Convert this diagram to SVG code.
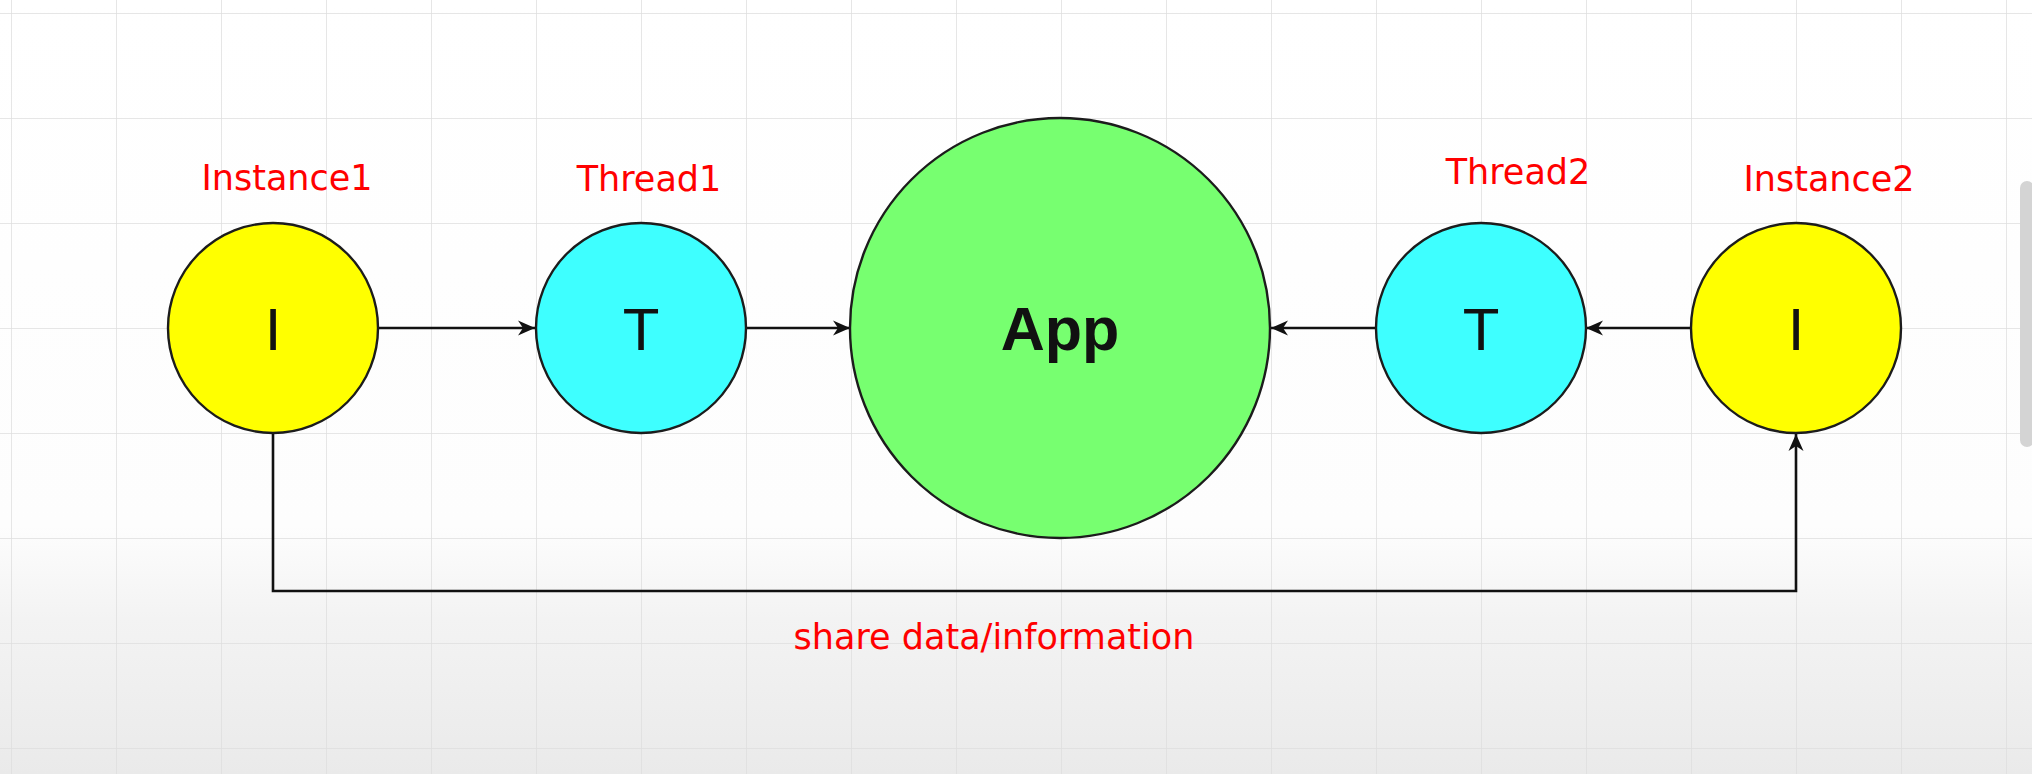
<svg xmlns="http://www.w3.org/2000/svg" width="2032" height="774" viewBox="0 0 2032 774">
  <defs>
    <linearGradient id="bg" x1="0" y1="0" x2="0" y2="1">
      <stop offset="0" stop-color="#ffffff"/>
      <stop offset="0.68" stop-color="#fdfdfd"/>
      <stop offset="0.8" stop-color="#f3f3f3"/>
      <stop offset="1" stop-color="#eaeaea"/>
    </linearGradient>
    <pattern id="grid" x="11" y="13" width="105" height="105" patternUnits="userSpaceOnUse">
      <path d="M0,0 H105 M0,0 V105" fill="none" stroke="#dedede" stroke-width="1.5"/>
    </pattern>
    <marker id="arrow" markerUnits="userSpaceOnUse" markerWidth="20" markerHeight="18" refX="18" refY="9" orient="auto">
      <path d="M1,1.5 L18,9 L1,16.5 L6,9 z" fill="#111111"/>
    </marker>
    <style>
      .node { stroke: #1c1c1c; stroke-width: 2.4; }
      .inst { fill: #ffff00; }
      .thr { fill: #3effff; }
      .app { fill: #77ff70; }
      .letter { font-family: "Liberation Sans", Arial, sans-serif; font-size: 60px; fill: #111111; text-anchor: middle; }
      .appText { font-family: "Liberation Sans", Arial, sans-serif; font-size: 61px; font-weight: bold; fill: #111111; text-anchor: middle; }
      .label { font-family: "DejaVu Sans", Verdana, sans-serif; font-size: 35px; fill: #ff0000; text-anchor: middle; }
      .conn { fill: none; stroke: #111111; stroke-width: 2.6; }
    </style>
  </defs>

  <rect x="0" y="0" width="2032" height="774" fill="url(#bg)"/>
  <rect x="0" y="0" width="2032" height="774" fill="url(#grid)"/>
  <rect x="2020" y="181" width="14" height="266" rx="7" fill="#d4d4d4"/>

  <g id="connectors">
    <line class="conn" x1="379" y1="328" x2="535" y2="328" marker-end="url(#arrow)"/>
    <line class="conn" x1="746" y1="328" x2="850" y2="328" marker-end="url(#arrow)"/>
    <line class="conn" x1="1376" y1="328" x2="1271" y2="328" marker-end="url(#arrow)"/>
    <line class="conn" x1="1691" y1="328" x2="1586" y2="328" marker-end="url(#arrow)"/>
    <path class="conn" d="M273,434 V591 H1796 V434" marker-end="url(#arrow)"/>
  </g>

  <g id="instance1">
    <circle class="node inst" cx="273" cy="328" r="105"/>
    <text class="letter" x="273" y="350">I</text>
    <text class="label" x="287" y="190">Instance1</text>
  </g>

  <g id="thread1">
    <circle class="node thr" cx="641" cy="328" r="105"/>
    <text class="letter" x="641" y="350">T</text>
    <text class="label" x="649" y="191">Thread1</text>
  </g>

  <g id="app">
    <circle class="node app" cx="1060" cy="328" r="210"/>
    <text class="appText" x="1060" y="350">App</text>
  </g>

  <g id="thread2">
    <circle class="node thr" cx="1481" cy="328" r="105"/>
    <text class="letter" x="1481" y="350">T</text>
    <text class="label" x="1518" y="184">Thread2</text>
  </g>

  <g id="instance2">
    <circle class="node inst" cx="1796" cy="328" r="105"/>
    <text class="letter" x="1796" y="350">I</text>
    <text class="label" x="1829" y="191">Instance2</text>
  </g>

  <g id="share-label">
    <text class="label" x="994" y="649">share data/information</text>
  </g>
</svg>
